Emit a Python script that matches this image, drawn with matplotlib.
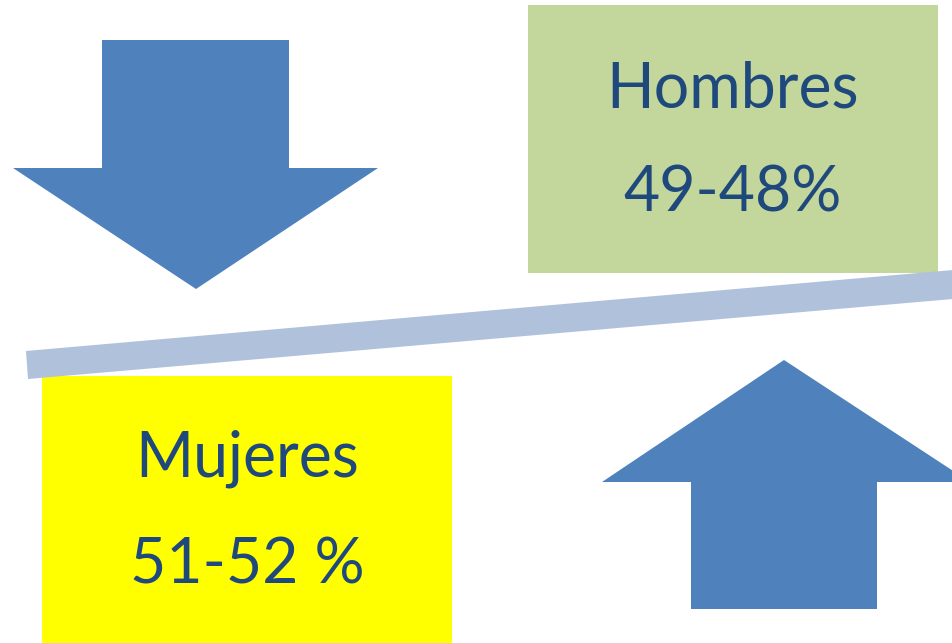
import matplotlib
matplotlib.use('Agg')
import matplotlib.pyplot as plt
from matplotlib.patches import Polygon, Rectangle

# labels and values shown in the two boxes
groups = ['Hombres', 'Mujeres']
shares = ['49-48%', '51-52 %']
box_colors = ['#C3D69B', '#FFFF00']

text_color = '#1F497D'
arrow_color = '#4F81BD'
beam_color = '#B0C1DC'

W, H = 953, 643
fig = plt.figure(figsize=(W / 100, H / 100), dpi=100)
ax = fig.add_axes([0, 0, 1, 1])
ax.set_xlim(0, W)
ax.set_ylim(H, 0)
ax.axis('off')

# boxes: (x0, y0, x1, y1) in pixel space
boxes = [(528, 5, 938, 273), (42, 376, 452, 650)]
# baselines of the two text lines in each box
baselines = [(107, 212), (477, 583)]

for (x0, y0, x1, y1), col in zip(boxes, box_colors):
    ax.add_patch(Rectangle((x0, y0), x1 - x0, y1 - y0, facecolor=col,
                           edgecolor='none', zorder=1))

# tilted beam
ax.add_patch(Polygon([(26, 351), (953, 270), (953, 299), (28, 379)],
                     closed=True, facecolor=beam_color, edgecolor='none', zorder=2))

# down arrow (top left)
ax.add_patch(Polygon([(102, 40), (289, 40), (289, 168), (378, 168),
                      (196, 289), (13, 168), (102, 168)],
                     closed=True, facecolor=arrow_color, edgecolor='none', zorder=2))

# up arrow (bottom right)
ax.add_patch(Polygon([(784, 360), (970, 482), (877, 482), (877, 609),
                      (691, 609), (691, 482), (602, 482)],
                     closed=True, facecolor=arrow_color, edgecolor='none', zorder=2))

for (x0, y0, x1, y1), name, share, (b1, b2) in zip(boxes, groups, shares, baselines):
    cx = (x0 + x1) / 2
    ax.text(cx, b1, name, ha='center', va='baseline', fontsize=45,
            family=['Lato', 'DejaVu Sans'], color=text_color, zorder=3)
    ax.text(cx, b2, share, ha='center', va='baseline', fontsize=45,
            family=['Lato', 'DejaVu Sans'], color=text_color, zorder=3)

fig.savefig('out.png', dpi=100, facecolor='white')
